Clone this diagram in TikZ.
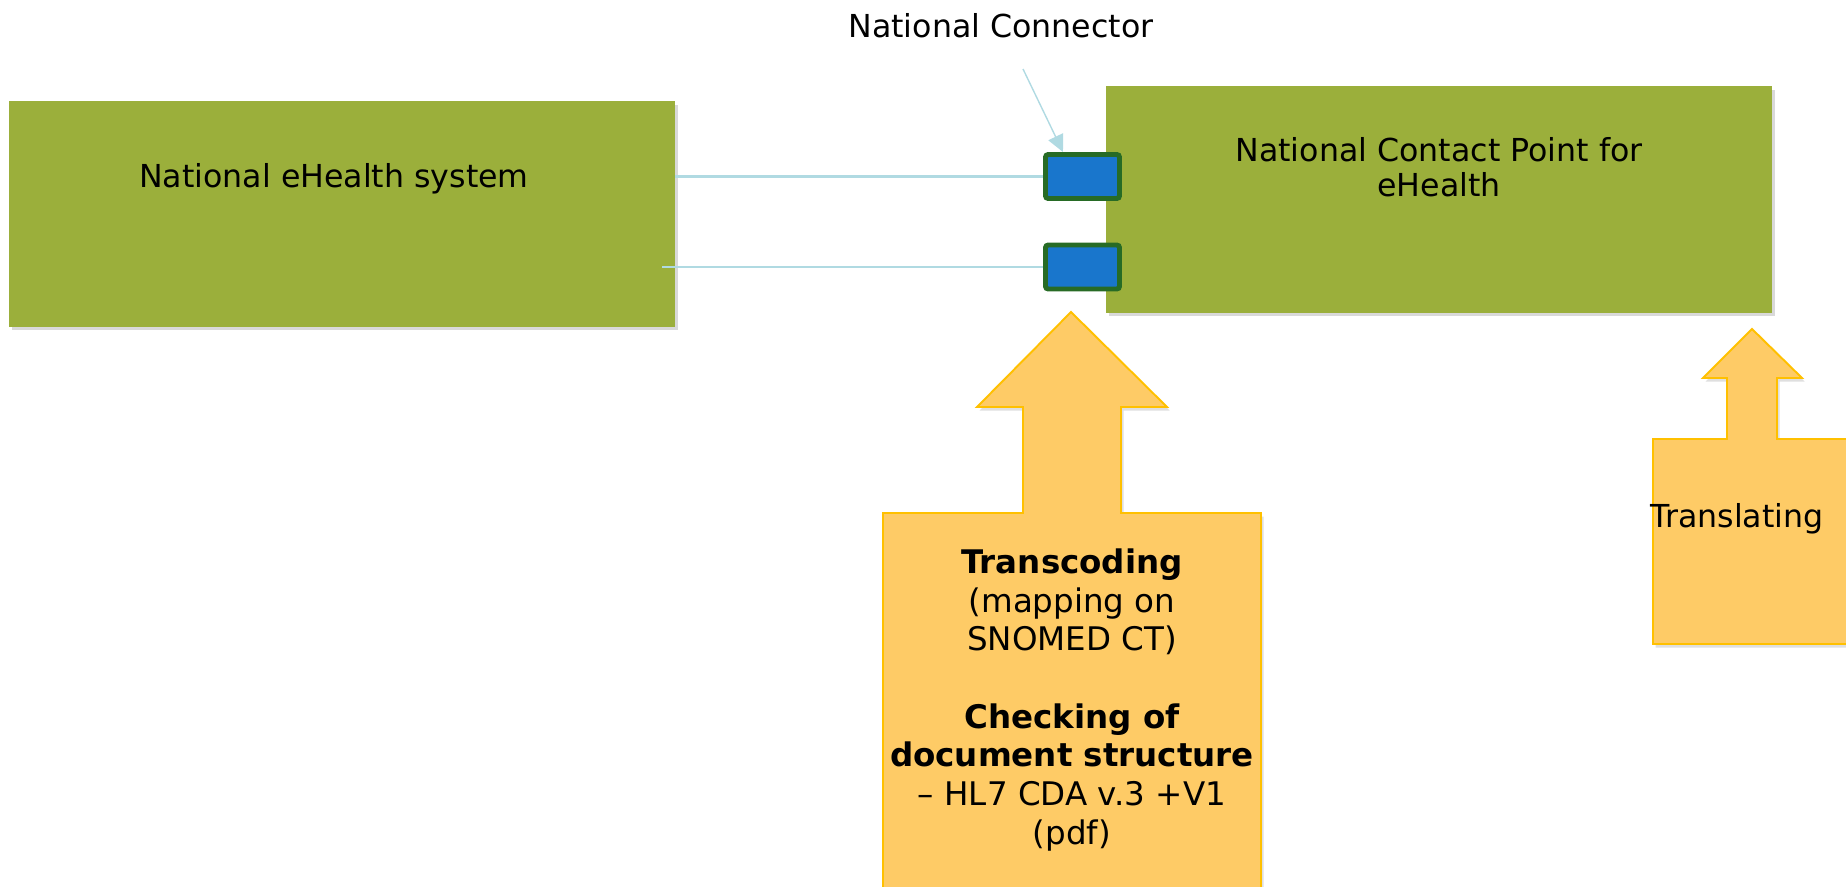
\documentclass[tikz,border=0pt]{standalone}
\usepackage{fontspec}
\setmainfont{DejaVu Sans}
\usetikzlibrary{arrows.meta,shadows}
\definecolor{boxgreen}{HTML}{9BAF3B}
\definecolor{callfill}{HTML}{FECB66}
\definecolor{callline}{HTML}{FFC000}
\definecolor{portblue}{HTML}{1976CC}
\definecolor{portline}{HTML}{276B25}
\definecolor{linkblue}{HTML}{B0DAE2}
\tikzset{
  sysbox/.style={fill=boxgreen,inner sep=0pt,minimum width=13.32cm,
    drop shadow={shadow xshift=1.5pt,shadow yshift=-2pt,opacity=0.3}},
  port/.style={fill=portblue,draw=portline,line width=2.8pt,rounded corners=1.5pt,
    minimum width=1.48cm,minimum height=0.88cm,inner sep=0pt},
  callout/.style={fill=callfill,draw=callline,line width=1.1pt,
    drop shadow={shadow xshift=1.5pt,shadow yshift=-2pt,opacity=0.25}},
  link/.style={draw=linkblue,line width=1.2pt},
  txt/.style={font=\fontsize{18}{20}\selectfont,align=center,inner sep=0pt}
}
\begin{document}
\begin{tikzpicture}[x=0.02cm,y=-0.02cm]
    \useasboundingbox (0,0) rectangle (1846,886);
    \clip (0,0) rectangle (1846,886);
    \node[sysbox,minimum height=4.52cm] (ehs) at (342,214) {};
    \node[txt] (ehstext) at (334,179) {National eHealth system};
    \node[sysbox,minimum height=4.54cm] (ncp) at (1439,199.5) {};
    \node[txt] (ncptext) at (1439,167) {National Contact Point for\\eHealth};
    \node[port] (portA) at (1082.5,176.5) {};
    \node[port] (portB) at (1082.5,267) {};
    \coordinate (ehsout) at (662,267);
    \draw[link] (ehs.east |- portA.west) -- (portA.west);
    \draw[link] (ehsout) -- (portB.west);
    \node[txt] (conlabel) at (1001,26) {National Connector};
    \coordinate (constart) at (1023,69);
    \draw[link,line width=0.8pt,-{Triangle[length=0.34cm,width=0.32cm]}] (constart) -- (portA.north west -| 1063,0);
    \draw[callout] (883,900) -- (883,513) -- (1023,513) -- (1023,407) -- (977,407) -- (1071,312)
        -- (1167,407) -- (1121,407) -- (1121,513) -- (1261,513) -- (1261,900) -- cycle;
    \node[txt,font=\fontsize{18.5}{22}\selectfont] (transcoding) at (1072,700) {\textbf{Transcoding}\\(mapping on\\SNOMED CT)\\[22pt]
        \textbf{Checking of}\\\textbf{document structure}\\– HL7 CDA v.3 +V1\\(pdf)};
    \draw[callout] (1653,644) -- (1653,439) -- (1727,439) -- (1727,378) -- (1703,378) -- (1752,329)
        -- (1802,378) -- (1777,378) -- (1777,439) -- (1870,439) -- (1870,644) -- cycle;
    \node[txt] (translating) at (1737,519) {Translating};
\end{tikzpicture}
\end{document}
